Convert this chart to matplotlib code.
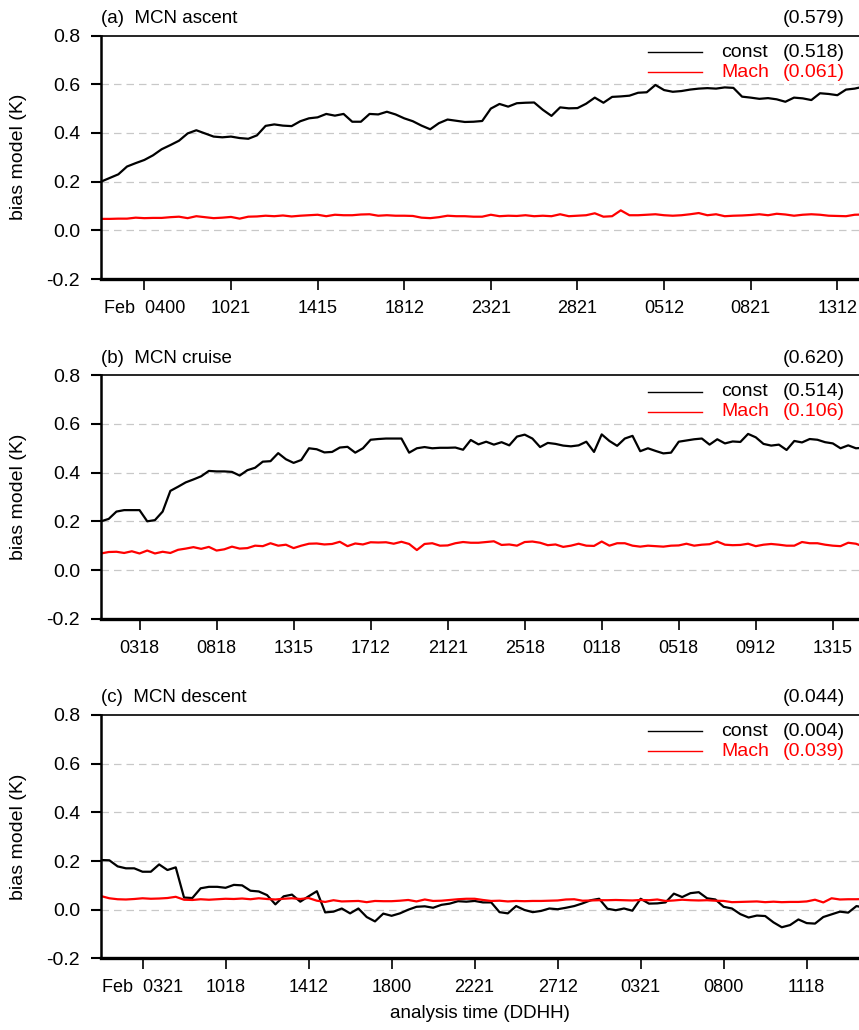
import numpy as np
import matplotlib
matplotlib.use('Agg')
import matplotlib.pyplot as plt

plt.rcParams['font.family'] = ['Liberation Sans', 'DejaVu Sans']
plt.rcParams['axes.unicode_minus'] = False

# (a) MCN ascent
ascent_const = [0.200, 0.215, 0.230, 0.262, 0.276, 0.289, 0.308, 0.333, 0.350, 0.368,
                0.398, 0.411, 0.398, 0.385, 0.382, 0.385, 0.379, 0.376, 0.390, 0.429,
                0.435, 0.430, 0.428, 0.448, 0.460, 0.464, 0.478, 0.471, 0.478, 0.446,
                0.446, 0.478, 0.476, 0.487, 0.476, 0.460, 0.448, 0.430, 0.415, 0.440,
                0.455, 0.450, 0.445, 0.446, 0.449, 0.500, 0.519, 0.508, 0.522, 0.524,
                0.525, 0.495, 0.470, 0.505, 0.501, 0.502, 0.520, 0.545, 0.524, 0.548,
                0.550, 0.553, 0.565, 0.567, 0.597, 0.576, 0.569, 0.572, 0.578, 0.582,
                0.584, 0.582, 0.587, 0.585, 0.549, 0.545, 0.540, 0.543, 0.538, 0.528,
                0.545, 0.542, 0.535, 0.563, 0.560, 0.555, 0.578, 0.582, 0.590]
ascent_mach = [0.047, 0.047, 0.048, 0.048, 0.052, 0.050, 0.051, 0.051, 0.054, 0.056,
               0.050, 0.058, 0.054, 0.050, 0.052, 0.055, 0.048, 0.056, 0.057, 0.060,
               0.058, 0.061, 0.057, 0.060, 0.062, 0.064, 0.058, 0.064, 0.062, 0.062,
               0.065, 0.066, 0.060, 0.062, 0.060, 0.060, 0.059, 0.052, 0.050, 0.054,
               0.060, 0.058, 0.058, 0.056, 0.056, 0.064, 0.058, 0.060, 0.059, 0.062,
               0.058, 0.060, 0.058, 0.066, 0.058, 0.060, 0.062, 0.070, 0.056, 0.058,
               0.082, 0.062, 0.062, 0.064, 0.066, 0.062, 0.060, 0.062, 0.066, 0.071,
               0.062, 0.066, 0.058, 0.060, 0.061, 0.063, 0.066, 0.062, 0.068, 0.065,
               0.060, 0.064, 0.066, 0.064, 0.060, 0.059, 0.058, 0.064, 0.065]
ascent_ticks = ['Feb  0400', '1021', '1415', '1812', '2321', '2821', '0512', '0821', '1312']

# (b) MCN cruise
cruise_const = [0.200, 0.210, 0.240, 0.246, 0.246, 0.246, 0.200, 0.205, 0.240, 0.325,
                0.342, 0.360, 0.372, 0.385, 0.407, 0.405, 0.405, 0.403, 0.388, 0.410,
                0.420, 0.445, 0.447, 0.480, 0.455, 0.440, 0.452, 0.500, 0.496, 0.483,
                0.485, 0.503, 0.506, 0.482, 0.500, 0.535, 0.538, 0.540, 0.540, 0.540,
                0.482, 0.500, 0.505, 0.500, 0.502, 0.502, 0.503, 0.494, 0.534, 0.516,
                0.527, 0.515, 0.525, 0.512, 0.548, 0.556, 0.540, 0.505, 0.522, 0.518,
                0.511, 0.508, 0.512, 0.527, 0.485, 0.557, 0.530, 0.510, 0.540, 0.551,
                0.488, 0.500, 0.489, 0.479, 0.482, 0.527, 0.532, 0.537, 0.540, 0.515,
                0.537, 0.520, 0.528, 0.526, 0.559, 0.545, 0.518, 0.511, 0.515, 0.493,
                0.530, 0.524, 0.538, 0.535, 0.525, 0.520, 0.500, 0.512, 0.500, 0.502]
cruise_mach = [0.068, 0.074, 0.075, 0.070, 0.077, 0.068, 0.080, 0.068, 0.075, 0.070,
               0.083, 0.088, 0.094, 0.087, 0.095, 0.080, 0.085, 0.096, 0.088, 0.090,
               0.100, 0.098, 0.110, 0.100, 0.104, 0.090, 0.100, 0.108, 0.109, 0.105,
               0.107, 0.116, 0.098, 0.109, 0.105, 0.114, 0.113, 0.114, 0.108, 0.116,
               0.107, 0.082, 0.107, 0.110, 0.100, 0.101, 0.110, 0.115, 0.112, 0.112,
               0.115, 0.118, 0.103, 0.105, 0.100, 0.115, 0.117, 0.112, 0.102, 0.105,
               0.095, 0.100, 0.108, 0.100, 0.099, 0.117, 0.100, 0.110, 0.110, 0.100,
               0.096, 0.100, 0.098, 0.096, 0.100, 0.101, 0.108, 0.100, 0.104, 0.106,
               0.117, 0.104, 0.102, 0.103, 0.108, 0.098, 0.104, 0.107, 0.104, 0.100,
               0.100, 0.115, 0.110, 0.110, 0.104, 0.100, 0.098, 0.112, 0.108, 0.096]
cruise_ticks = ['0318', '0818', '1315', '1712', '2121', '2518', '0118', '0518', '0912', '1315']

# (c) MCN descent
descent_const = [0.204, 0.203, 0.178, 0.170, 0.170, 0.156, 0.156, 0.186, 0.163, 0.174,
                 0.050, 0.048, 0.088, 0.094, 0.094, 0.090, 0.102, 0.100, 0.078, 0.075,
                 0.060, 0.022, 0.055, 0.062, 0.033, 0.055, 0.076, -0.011, -0.008, 0.005,
                 -0.015, 0.005, -0.030, -0.048, -0.016, -0.025, -0.015, 0.000, 0.012, 0.014,
                 0.008, 0.020, 0.025, 0.035, 0.033, 0.036, 0.030, 0.030, -0.010, -0.015,
                 0.015, -0.001, -0.010, -0.005, 0.005, 0.002, 0.008, 0.015, 0.026, 0.039,
                 0.045, 0.004, -0.002, 0.005, -0.004, 0.045, 0.025, 0.026, 0.030, 0.066,
                 0.052, 0.068, 0.072, 0.047, 0.042, 0.012, 0.005, -0.018, -0.032, -0.024,
                 -0.026, -0.052, -0.072, -0.063, -0.040, -0.055, -0.057, -0.030, -0.019, -0.008,
                 -0.012, 0.015, 0.008]
descent_mach = [0.056, 0.047, 0.043, 0.042, 0.044, 0.047, 0.045, 0.046, 0.048, 0.053,
                0.041, 0.040, 0.043, 0.041, 0.043, 0.045, 0.044, 0.046, 0.043, 0.047,
                0.044, 0.042, 0.045, 0.047, 0.044, 0.048, 0.037, 0.032, 0.039, 0.034,
                0.035, 0.036, 0.031, 0.036, 0.035, 0.035, 0.037, 0.040, 0.034, 0.042,
                0.036, 0.037, 0.040, 0.043, 0.045, 0.045, 0.040, 0.036, 0.037, 0.034,
                0.036, 0.035, 0.036, 0.036, 0.037, 0.038, 0.042, 0.043, 0.037, 0.038,
                0.039, 0.039, 0.040, 0.039, 0.038, 0.040, 0.039, 0.042, 0.036, 0.038,
                0.041, 0.039, 0.038, 0.039, 0.037, 0.036, 0.031, 0.032, 0.033, 0.034,
                0.031, 0.033, 0.031, 0.032, 0.032, 0.034, 0.041, 0.030, 0.047, 0.042,
                0.043, 0.043, 0.044]
descent_ticks = ['Feb  0321', '1018', '1412', '1800', '2221', '2712', '0321', '0800', '1118']

panels = [
    ('(a)  MCN ascent', ascent_const, ascent_mach, ascent_ticks, (0.579, 0.518, 0.061), 87.5),
    ('(b)  MCN cruise', cruise_const, cruise_mach, cruise_ticks, (0.620, 0.514, 0.106), 98.4),
    ('(c)  MCN descent', descent_const, descent_mach, descent_ticks, (0.044, 0.004, 0.039), 91.3),
]
bottoms = [0.7291, 0.3993, 0.0695]

fig = plt.figure(figsize=(8.59, 10.30), dpi=100)

for (title, const, mach, ticks, scores, xmax), bottom in zip(panels, bottoms):
    ax = fig.add_axes([0.1176, bottom, 0.8824, 0.2364])
    x = np.arange(len(const))
    for yv in [0.0, 0.2, 0.4, 0.6]:
        ax.axhline(yv, color='#c8c8c8', lw=0.9, dashes=(6, 4), zorder=0)
    ax.plot(x, const, color='black', lw=1.6)
    ax.plot(np.arange(len(mach)), mach, color='red', lw=1.6)

    ax.set_xlim(0, xmax)
    ax.set_ylim(-0.2, 0.8)
    ax.set_yticks([-0.2, 0.0, 0.2, 0.4, 0.6, 0.8])
    ax.set_yticklabels(['-0.2', '0.0', '0.2', '0.4', '0.6', '0.8'], fontsize=14)
    ax.set_xticks(5 + 10 * np.arange(len(ticks)))
    ax.set_xticklabels(ticks, fontsize=13)
    ax.tick_params(axis='y', direction='out', length=7, width=1.5, pad=8)
    ax.tick_params(axis='x', direction='out', length=8, width=1.2, pad=7)
    ax.spines['right'].set_visible(False)
    ax.spines['left'].set_linewidth(1.8)
    ax.spines['bottom'].set_linewidth(2.4)
    ax.spines['top'].set_linewidth(1.2)
    ax.set_ylabel('bias model (K)', fontsize=14, labelpad=14)

    ax.text(0.0, 1.035, title, transform=ax.transAxes, fontsize=13.5, ha='left', va='bottom')
    ax.text(0.9815, 1.035, '(%.3f)' % scores[0], transform=ax.transAxes, fontsize=14,
            ha='right', va='bottom')

    # legend drawn by hand
    for row, (name, col, val) in enumerate([('const', 'black', scores[1]),
                                             ('Mach', 'red', scores[2])]):
        yy = 0.932 - row * 0.082
        ax.plot([0.722, 0.793], [yy, yy], color=col, lw=1.0, transform=ax.transAxes,
                clip_on=False)
        ax.text(0.818, yy, name, color=col, fontsize=14, ha='left', va='center',
                transform=ax.transAxes)
        ax.text(0.9815, yy, '(%.3f)' % val, color=col, fontsize=14, ha='right', va='center',
                transform=ax.transAxes)

ax.set_xlabel('analysis time (DDHH)', fontsize=13.5, labelpad=6)

fig.savefig('out.png', dpi=100)
